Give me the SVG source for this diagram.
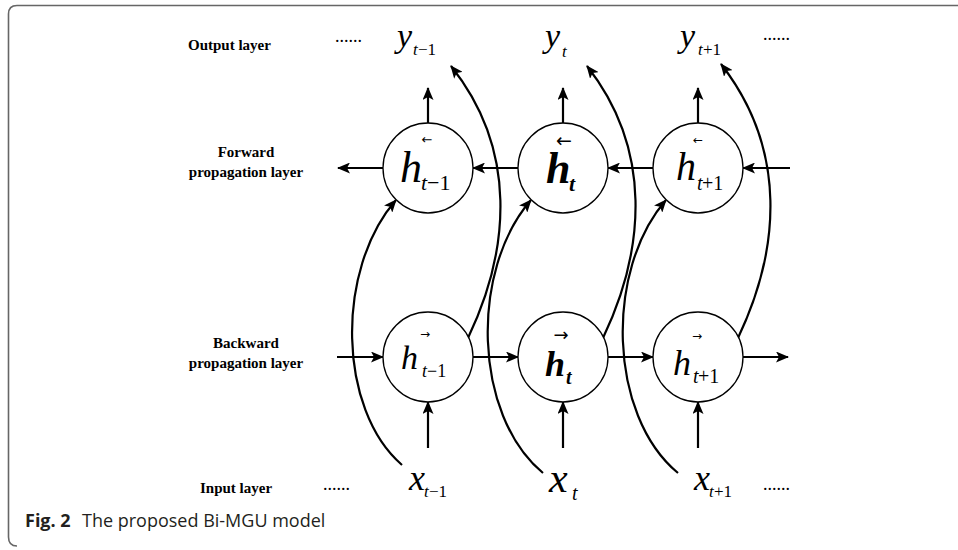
<svg xmlns="http://www.w3.org/2000/svg" width="958" height="550" viewBox="0 0 958 550">
<style>
.lbl{font-family:"Liberation Serif","Times New Roman",serif;font-weight:bold;font-size:15px;fill:#000}
.dots{font-family:"Liberation Serif",serif;font-size:18px;fill:#000}
.m{font-family:"Liberation Serif","Times New Roman",serif;font-style:italic;fill:#000}
.n{font-family:"Liberation Serif","Times New Roman",serif;font-style:normal;fill:#000}
.ar{font-family:"DejaVu Sans",sans-serif;fill:#000}
.node circle{fill:#fff;stroke:#000;stroke-width:1.3}
.conn path,.conn line{fill:none;stroke:#000;stroke-width:2.2;marker-end:url(#ah)}
.cap{font-family:"Open Sans","Noto Sans",sans-serif;font-size:18px;fill:#231f20}
</style>
<defs>
<marker id="ah" viewBox="0 0 13 11" refX="12" refY="5.5" markerWidth="13" markerHeight="11" markerUnits="userSpaceOnUse" orient="auto">
<path d="M0,0 L13,5.5 L0,11 L3,5.5 z" fill="#000"/>
</marker>
</defs>
<rect width="958" height="550" fill="#fff"/>
<path d="M958,5.5 H17 Q8.5,5.5 8.5,14 V537 Q8.5,546 17,546" fill="none" stroke="#666" stroke-width="1.6"/>

<g id="labels">
<text class="lbl" x="188" y="50">Output layer</text>
<text class="lbl" x="246" y="157" text-anchor="middle">Forward</text>
<text class="lbl" x="246" y="177" text-anchor="middle">propagation layer</text>
<text class="lbl" x="246" y="348" text-anchor="middle">Backward</text>
<text class="lbl" x="246" y="368" text-anchor="middle">propagation layer</text>
<text class="lbl" x="200" y="493">Input layer</text>
<text class="dots" x="335" y="42">......</text>
<text class="dots" x="763" y="40">......</text>
<text class="dots" x="323" y="490">......</text>
<text class="dots" x="763" y="490">......</text>
</g>

<g class="conn">
<line x1="383" y1="168" x2="338" y2="168"/>
<line x1="518" y1="168" x2="473" y2="168"/>
<line x1="653" y1="168" x2="608" y2="168"/>
<line x1="790" y1="168" x2="743" y2="168"/>
<line x1="337" y1="357" x2="383" y2="357"/>
<line x1="473" y1="357" x2="518" y2="357"/>
<line x1="608" y1="357" x2="653" y2="357"/>
<line x1="743" y1="357" x2="788" y2="357"/>
<line x1="428" y1="123" x2="428" y2="88"/>
<line x1="563" y1="123" x2="563" y2="88"/>
<line x1="698" y1="123" x2="698" y2="88"/>
<line x1="428" y1="448" x2="428" y2="402"/>
<line x1="563" y1="448" x2="563" y2="402"/>
<line x1="698" y1="448" x2="698" y2="402"/>
<path d="M402,465 C338,410 335,270 396,200"/>
<path d="M543,473 C473,415 470,270 531,200"/>
<path d="M678,473 C608,415 605,270 666,200"/>
<path d="M468,338 C510,250 518,150 451,66"/>
<path d="M603,338 C645,250 653,150 587,66"/>
<path d="M738,338 C780,250 788,150 721,64"/>
</g>

<g id="y_tm1"><text class="m" x="397" y="47" font-size="34">y</text><text class="m" x="413" y="55" font-size="17">t</text><text class="n" x="418" y="55" font-size="17">−1</text></g>
<g id="y_t"><text class="m" x="545" y="47" font-size="34">y</text><text class="m" x="562" y="57" font-size="17">t</text></g>
<g id="y_tp1"><text class="m" x="680" y="47" font-size="34">y</text><text class="m" x="698" y="55" font-size="17">t</text><text class="n" x="703" y="55" font-size="17">+1</text></g>

<g id="hf_tm1" class="node"><circle cx="428" cy="168" r="45"/>
<text class="ar" x="427" y="144" font-size="13" text-anchor="middle">←</text>
<text class="m" x="400" y="182" font-size="44">h</text><text class="m" x="421" y="190" font-size="22">t</text><text class="n" x="427" y="190" font-size="22">−1</text></g>
<g id="hf_t" class="node"><circle cx="563" cy="168" r="45"/>
<text class="ar" x="564" y="147" font-size="19" text-anchor="middle">←</text>
<text class="m" x="546" y="183" font-size="44" font-weight="bold">h</text><text class="m" x="569" y="191" font-size="22" font-weight="bold">t</text></g>
<g id="hf_tp1" class="node"><circle cx="698" cy="168" r="45"/>
<text class="ar" x="698" y="144" font-size="12" text-anchor="middle">←</text>
<text class="m" x="676" y="180" font-size="40">h</text><text class="m" x="697" y="190" font-size="20">t</text><text class="n" x="702" y="190" font-size="20">+1</text></g>

<g id="hb_tm1" class="node"><circle cx="428" cy="357" r="45"/>
<text class="ar" x="425" y="338" font-size="12" text-anchor="middle">→</text>
<text class="m" x="401" y="369" font-size="34">h</text><text class="m" x="422" y="377" font-size="18">t</text><text class="n" x="427" y="377" font-size="18">−1</text></g>
<g id="hb_t" class="node"><circle cx="563" cy="357" r="45"/>
<text class="ar" x="561" y="341" font-size="18" text-anchor="middle">→</text>
<text class="m" x="545" y="376" font-size="36" font-weight="bold">h</text><text class="m" x="566" y="384" font-size="20" font-weight="bold">t</text></g>
<g id="hb_tp1" class="node"><circle cx="698" cy="357" r="45"/>
<text class="ar" x="697" y="340" font-size="12" text-anchor="middle">→</text>
<text class="m" x="673" y="375" font-size="36">h</text><text class="m" x="693" y="383" font-size="20">t</text><text class="n" x="698" y="383" font-size="20">+1</text></g>

<g id="x_tm1"><text class="m" x="409" y="490" font-size="36">x</text><text class="m" x="424" y="497" font-size="17">t</text><text class="n" x="429" y="497" font-size="17">−1</text></g>
<g id="x_t"><text class="m" x="549" y="492" font-size="42">x</text><text class="m" x="572" y="500" font-size="20">t</text></g>
<g id="x_tp1"><text class="m" x="694" y="490" font-size="36">x</text><text class="m" x="709" y="497" font-size="17">t</text><text class="n" x="714" y="497" font-size="17">+1</text></g>

<text class="cap" x="25" y="527"><tspan font-weight="bold">Fig. 2</tspan><tspan x="82">The proposed Bi-MGU model</tspan></text>
</svg>
